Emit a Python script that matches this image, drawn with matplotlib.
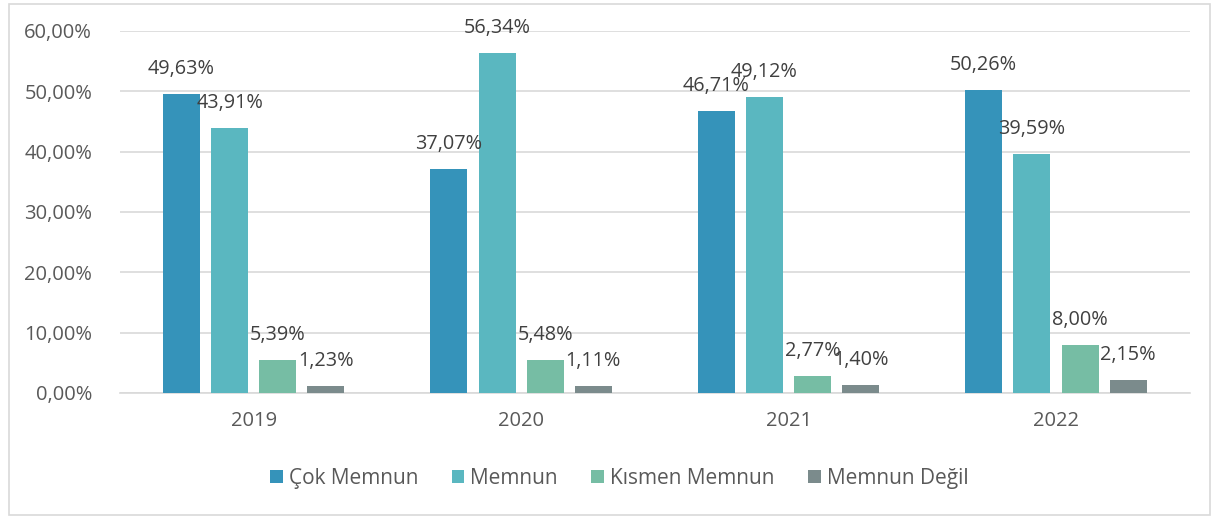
import numpy as np
import matplotlib.pyplot as plt

years = ["2019", "2020", "2021", "2022"]
series = ["Çok Memnun", "Memnun", "Kısmen Memnun", "Memnun Değil"]
cok_memnun = [49.63, 37.07, 46.71, 50.26]
memnun = [43.91, 56.34, 49.12, 39.59]
kismen_memnun = [5.39, 5.48, 2.77, 8.00]
memnun_degil = [1.23, 1.11, 1.40, 2.15]
colors = ["#3593ba", "#5ab7c0", "#76bda4", "#7b8b8c"]

plt.rcParams['font.family'] = ['Open Sans', 'DejaVu Sans']
text_color = '#595959'

fig = plt.figure(figsize=(12.19, 5.19), dpi=100)
ax = fig.add_axes([0.0984, 0.2428, 0.8776, 0.6975])

x = np.arange(len(years))
width = 0.138
step = 0.18
offsets = (np.arange(4) - 1.5) * step

for i, (name, vals) in enumerate(zip(series, [cok_memnun, memnun, kismen_memnun, memnun_degil])):
    bars = ax.bar(x + offsets[i], vals, width, color=colors[i], label=name, zorder=3)
    for b, v in zip(bars, vals):
        ax.annotate(f"{v:.2f}%".replace('.', ','),
                    (b.get_x() + b.get_width() / 2, v),
                    xytext=(0, 18), textcoords='offset points',
                    ha='center', va='center', fontsize=14.3, color='#404040', zorder=5)

ax.set_xlim(-0.5, 3.5)
ax.set_ylim(0, 60)
ax.set_yticks(np.arange(0, 61, 10))
ax.set_yticklabels([f"{t:.2f}%".replace('.', ',') for t in np.arange(0, 61, 10)])
ax.set_xticks(x)
ax.set_xticklabels(years)
ax.tick_params(axis='both', length=0, labelsize=14.5, colors=text_color)
ax.tick_params(axis='y', pad=20)
ax.tick_params(axis='x', pad=13)
ax.grid(axis='y', color='#d9d9d9', linewidth=1.2, zorder=0)
for s in ['top', 'right', 'left']:
    ax.spines[s].set_visible(False)
ax.spines['bottom'].set_color('#d9d9d9')
ax.spines['bottom'].set_linewidth(1.2)

leg = fig.legend(loc='center', bbox_to_anchor=(0.508, 0.078), ncol=4, frameon=False,
                 fontsize=15, handlelength=0.6, handleheight=0.6, columnspacing=1.6,
                 handletextpad=0.3)
for t in leg.get_texts():
    t.set_color(text_color)

# chart border
border = plt.Rectangle((0.007, 0.008), 0.986, 0.984, transform=fig.transFigure,
                       fill=False, edgecolor='#d9d9d9', linewidth=1.2)
fig.patches.append(border)

fig.savefig('out.png', dpi=100)
